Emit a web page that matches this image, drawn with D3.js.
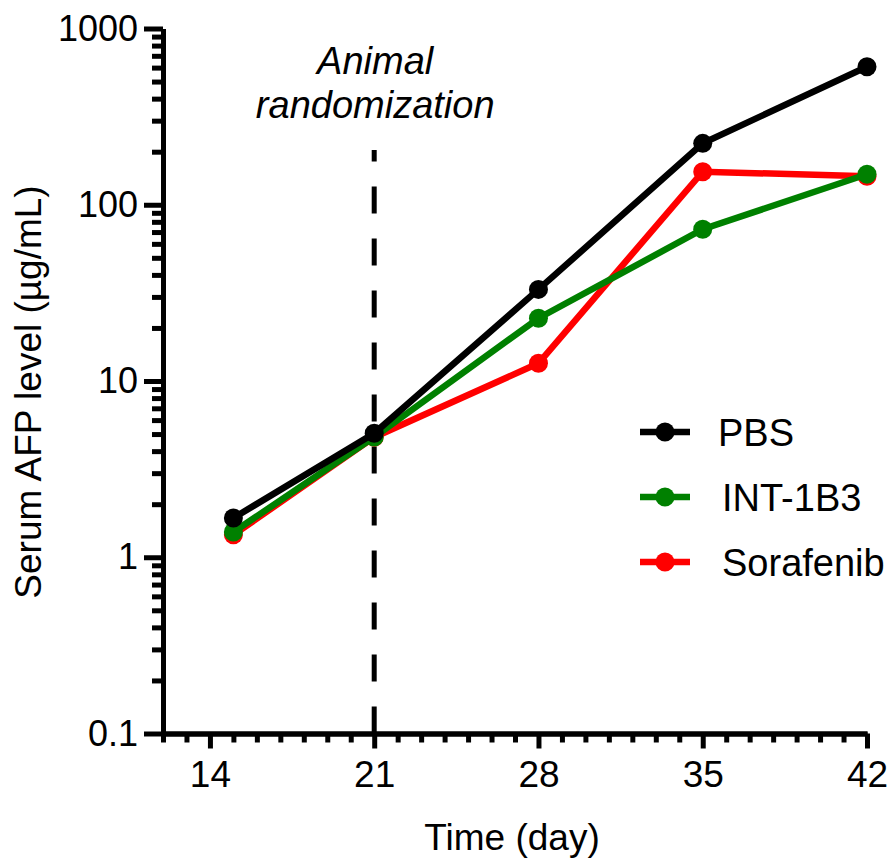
<!DOCTYPE html>
<html>
<head>
<meta charset="utf-8">
<script src="https://d3js.org/d3.v7.min.js"></script>
<style>
  body { margin: 0; background: #fff; }
  svg { font-family: "Liberation Sans", Arial, sans-serif; }
  .axis path, .axis line { stroke: #000; stroke-width: 5; fill: none; }
  .axis text { fill: #000; }
</style>
</head>
<body>
<script>
  // data
  var days = [15, 21, 28, 35, 42];
  var pbs = [1.67, 5.05, 33.1, 223, 607];
  var int1b3 = [1.39, 4.81, 22.7, 72.6, 149];
  var sorafenib = [1.34, 4.8, 12.6, 154, 145];

  var seriesNames = ["PBS", "INT-1B3", "Sorafenib"];
  var seriesColors = ["#000000", "#008000", "#ff0000"];
  var xTicks = [14, 21, 28, 35, 42];
  var yTicks = [0.1, 1, 10, 100, 1000];
  var randomDay = 21;

  var width = 893, height = 860;

  var svg = d3.select("body").append("svg")
      .attr("width", width)
      .attr("height", height);

  var x = d3.scaleLinear().domain([12, 42]).range([163, 867]);
  var y = d3.scaleLog().domain([0.1, 1000]).range([733.5, 28.5]);

  // minor ticks
  var yMinor = [];
  yTicks.slice(0, -1).forEach(function(t) {
    for (var k = 2; k <= 9; k++) yMinor.push(t * k);
  });
  var xMinor = d3.range(12, 43).filter(function(d) { return xTicks.indexOf(d) < 0; });

  svg.append("g")
      .attr("class", "axis")
      .attr("transform", "translate(" + x.range()[0] + ",0)")
      .call(d3.axisLeft(y).tickValues(yMinor).tickSize(11).tickSizeOuter(0).tickFormat(""));

  svg.append("g")
      .attr("class", "axis")
      .attr("transform", "translate(" + x.range()[0] + ",0)")
      .call(d3.axisLeft(y).tickValues(yTicks).tickSize(19).tickSizeOuter(0).tickPadding(6)
        .tickFormat(function(d) { return d < 1 ? "0.1" : d3.format("d")(d); }))
      .selectAll("text").style("font-size", "36px");

  svg.append("g")
      .attr("class", "axis")
      .attr("transform", "translate(0," + y.range()[0] + ")")
      .call(d3.axisBottom(x).tickValues(xMinor).tickSize(9).tickSizeOuter(0).tickFormat(""));

  svg.append("g")
      .attr("class", "axis")
      .attr("transform", "translate(0," + y.range()[0] + ")")
      .call(d3.axisBottom(x).tickValues(xTicks).tickSize(15).tickSizeOuter(0).tickPadding(12))
      .selectAll("text").style("font-size", "37px");

  // randomization marker
  svg.append("line")
      .attr("x1", x(randomDay)).attr("x2", x(randomDay))
      .attr("y1", y.range()[0]).attr("y2", 150)
      .attr("stroke", "#000")
      .attr("stroke-width", 5)
      .attr("stroke-dasharray", "27,25");

  svg.append("text")
      .attr("text-anchor", "middle")
      .style("font-size", "38px")
      .style("font-style", "italic")
      .selectAll("tspan")
      .data(["Animal", "randomization"])
      .enter().append("tspan")
        .attr("x", x(randomDay) + 1)
        .attr("y", function(d, i) { return 74 + i * 44; })
        .text(function(d) { return d; });

  // series
  var series = [pbs, int1b3, sorafenib];
  var line = d3.line()
      .x(function(d, i) { return x(days[i]); })
      .y(function(d) { return y(d); });

  [2, 1, 0].forEach(function(s) {
    var g = svg.append("g");
    g.append("path")
        .attr("d", line(series[s]))
        .attr("fill", "none")
        .attr("stroke", seriesColors[s])
        .attr("stroke-width", 6.5);
    g.selectAll("circle")
        .data(series[s])
      .enter().append("circle")
        .attr("cx", function(d, i) { return x(days[i]); })
        .attr("cy", function(d) { return y(d); })
        .attr("r", 9.5)
        .attr("fill", seriesColors[s]);
  });

  // legend
  var legend = svg.selectAll(".legend")
      .data(seriesNames)
    .enter().append("g")
      .attr("class", "legend")
      .attr("transform", function(d, i) { return "translate(640," + (432 + i * 65) + ")"; });

  legend.append("line")
      .attr("x1", 0).attr("x2", 50)
      .attr("stroke", function(d, i) { return seriesColors[i]; })
      .attr("stroke-width", 6.5);
  legend.append("circle")
      .attr("cx", 25).attr("r", 9.5)
      .attr("fill", function(d, i) { return seriesColors[i]; });
  legend.append("text")
      .attr("x", function(d, i) { return i === 0 ? 78 : 82; })
      .attr("y", 14)
      .style("font-size", "38px")
      .text(function(d) { return d; });

  // axis titles
  svg.append("text")
      .attr("x", 512)
      .attr("y", 850)
      .attr("text-anchor", "middle")
      .style("font-size", "37px")
      .text("Time (day)");

  svg.append("text")
      .attr("transform", "translate(41,392) rotate(-90)")
      .attr("text-anchor", "middle")
      .style("font-size", "37px")
      .text("Serum AFP level (µg/mL)");
</script>
</body>
</html>
